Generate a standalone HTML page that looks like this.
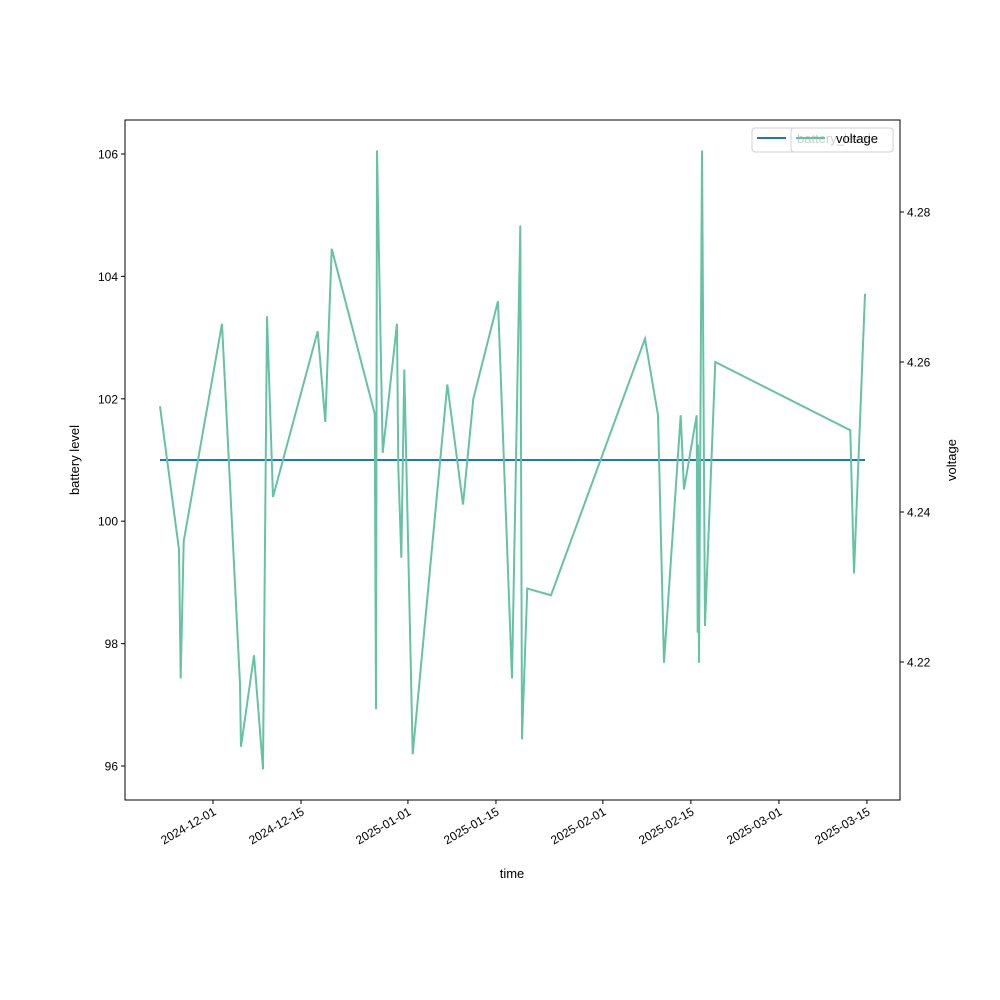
<!DOCTYPE html>
<html><head><meta charset="utf-8"><style>
body{margin:0;background:#fff}
svg{display:block;font-family:"Liberation Sans","DejaVu Sans",sans-serif}
</style></head><body>
<svg id="chart" width="1000" height="1000">
<rect x="0" y="0" width="1000" height="1000" fill="#fff"/>
<g id="plot"></g>
<g id="axes"></g>
<text x="512" y="878" font-size="13" text-anchor="middle">time</text>
<text transform="translate(79,460) rotate(-90)" font-size="13" text-anchor="middle">battery level</text>
<text transform="translate(956,460) rotate(-90)" font-size="13" text-anchor="middle">voltage</text>
<g>
<rect x="752" y="128" width="141" height="24" rx="3" fill="rgba(255,255,255,0.8)" stroke="#d0d0d0"/>
<line x1="757" y1="138" x2="786" y2="138" stroke="#1f77b4" stroke-width="2"/>
<text x="797" y="143" font-size="13">battery_level</text>
</g>
<g>
<rect x="791" y="128" width="102" height="24" rx="3" fill="rgba(255,255,255,0.8)" stroke="#d0d0d0"/>
<line x1="796" y1="138" x2="825" y2="138" stroke="#66c2a5" stroke-width="2"/>
<text x="836" y="143" font-size="13">voltage</text>
</g>
</svg>
<script>
const days = [-8.43,-5.41,-5.14,-4.66,1.43,4.29,4.45,6.52,7.95,8.59,9.54,16.65,17.86,18.88,25.72,25.92,26.08,26.99,29.26,29.47,29.95,30.42,31.76,37.26,39.76,41.40,45.32,47.55,48.87,49.14,49.98,53.75,68.70,70.77,71.72,74.38,74.90,76.92,77.08,77.13,77.29,77.77,78.24,79.88,101.35,101.94,103.69];
const voltage = [4.2541,4.2350,4.2178,4.2361,4.2651,4.2171,4.2087,4.2209,4.2057,4.2661,4.2420,4.2641,4.2520,4.2751,4.2531,4.2137,4.2882,4.2479,4.2651,4.2460,4.2339,4.2590,4.2077,4.2570,4.2410,4.2551,4.2681,4.2178,4.2782,4.2097,4.2298,4.2289,4.2631,4.2529,4.2199,4.2529,4.2430,4.2529,4.2239,4.2490,4.2199,4.2882,4.2248,4.2600,4.2509,4.2318,4.2691];
const battery = days.map(()=>101);
const xTickDays = [0,14,31,45,62,76,90,104];
const xTickLabels = ["2024-12-01","2024-12-15","2025-01-01","2025-01-15","2025-02-01","2025-02-15","2025-03-01","2025-03-15"];
const leftTicks = [96,98,100,102,104,106];
const rightTicks = [4.22,4.24,4.26,4.28];

const NS="http://www.w3.org/2000/svg";
const L=125,R=900,T=120,B=800;
const xs=d=>213+d*6.288;
const yl=v=>766-(v-96)*61.2;
const yr=v=>362-(v-4.26)*7500;
function mk(tag,attrs,parent){const e=document.createElementNS(NS,tag);for(const k in attrs)e.setAttribute(k,attrs[k]);parent.appendChild(e);return e;}
const plot=document.getElementById('plot'), axes=document.getElementById('axes');

const bl=mk('polyline',{points:days.map((d,i)=>xs(d)+','+yl(battery[i])).join(' '),fill:'none',stroke:'#1f77b4','stroke-width':2},plot);


const vl=mk('polyline',{points:days.map((d,i)=>xs(d)+','+yr(voltage[i])).join(' '),fill:'none',stroke:'#66c2a5','stroke-width':2,'stroke-linejoin':'miter'},plot);



const frame=mk('rect',{x:L,y:T,width:R-L,height:B-T,fill:'none',stroke:'#000','stroke-width':1},axes);



xTickDays.forEach((d,i)=>{
  const x=xs(d);
  mk('line',{x1:x,y1:B,x2:x,y2:B+4,stroke:'#000'},axes);
  const t=mk('text',{x:0,y:0,'font-size':12,'text-anchor':'end',transform:`translate(${x+4},${B+14}) rotate(-30)`},axes);
  t.textContent=xTickLabels[i];
  
  
});
leftTicks.forEach(v=>{
  const y=yl(v);
  mk('line',{x1:L-4,y1:y,x2:L,y2:y,stroke:'#000'},axes);
  const t=mk('text',{x:L-7,y:y+4.5,'font-size':12,'text-anchor':'end'},axes);
  t.textContent=String(v);
  
  
});
rightTicks.forEach(v=>{
  const y=yr(v);
  mk('line',{x1:R,y1:y,x2:R+4,y2:y,stroke:'#000'},axes);
  const t=mk('text',{x:R+7,y:y+4.5,'font-size':12,'text-anchor':'start'},axes);
  t.textContent=v.toFixed(2);
  
  
});
</script>
</body></html>
